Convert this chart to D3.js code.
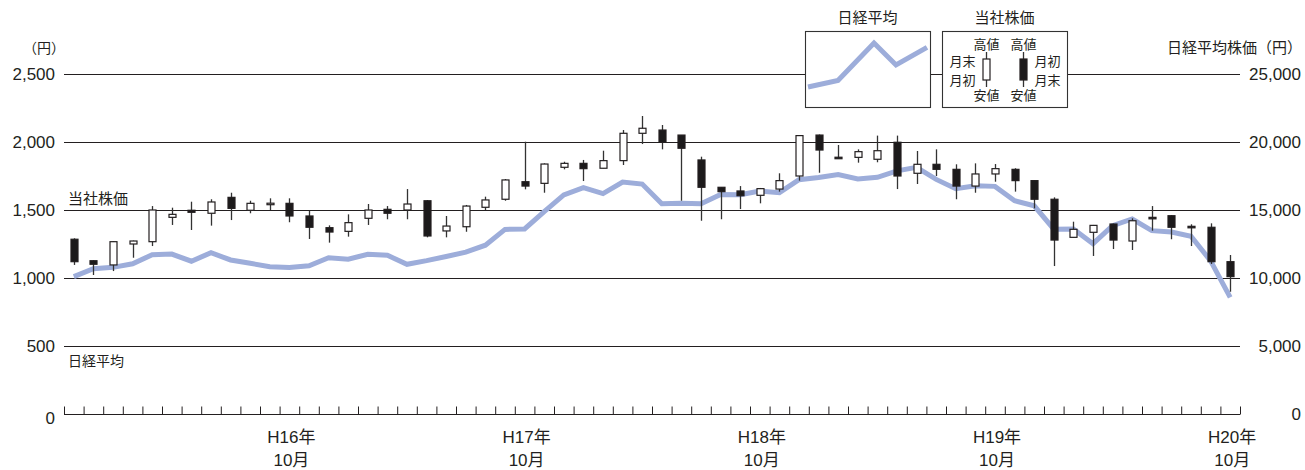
<!DOCTYPE html>
<html>
<head>
<meta charset="utf-8">
<script src="https://cdn.jsdelivr.net/npm/d3@7"></script>
<style>
  body { margin: 0; background: #fff; }
  text { font-family: 'Liberation Sans', 'Noto Sans CJK JP', sans-serif; fill: #231f20; }
</style>
</head>
<body>
<svg id="svg" width="1305" height="470"></svg>
<script>
const width = 1305;
const height = 470;

// months (Heisei year / month)
const months = [
	'15/11', '15/12',
	'16/01', '16/02', '16/03', '16/04', '16/05', '16/06', '16/07', '16/08', '16/09', '16/10', '16/11', '16/12',
	'17/01', '17/02', '17/03', '17/04', '17/05', '17/06', '17/07', '17/08', '17/09', '17/10', '17/11', '17/12',
	'18/01', '18/02', '18/03', '18/04', '18/05', '18/06', '18/07', '18/08', '18/09', '18/10', '18/11', '18/12',
	'19/01', '19/02', '19/03', '19/04', '19/05', '19/06', '19/07', '19/08', '19/09', '19/10', '19/11', '19/12',
	'20/01', '20/02', '20/03', '20/04', '20/05', '20/06', '20/07', '20/08', '20/09', '20/10'
];

// company stock price (yen) : 月初 / 高値 / 安値 / 月末
const openPrice = [
	1285, 1127, 1096, 1250, 1267, 1446, 1498, 1476, 1593, 1498, 1545, 1549, 1456, 1370, 1343,
	1439, 1505, 1500, 1568, 1346, 1377, 1520, 1579, 1708, 1696, 1814, 1843, 1807, 1863, 2064,
	2088, 2051, 1868, 1667, 1640, 1608, 1654, 1750, 2051, 1888, 1887, 1873, 1998, 1770, 1836,
	1799, 1676, 1765, 1799, 1716, 1579, 1299, 1336, 1397, 1272, 1446, 1458, 1380, 1373, 1120
];
const highPrice = [
	1292, 1130, 1270, 1275, 1529, 1517, 1561, 1579, 1627, 1568, 1586, 1586, 1495, 1387, 1468,
	1544, 1529, 1654, 1573, 1456, 1537, 1598, 1728, 2002, 1843, 1855, 1868, 1936, 2088, 2191,
	2125, 2051, 1892, 1667, 1676, 1662, 1770, 2051, 2055, 1978, 1946, 2047, 2047, 1934, 1946,
	1836, 1843, 1838, 1807, 1720, 1593, 1414, 1390, 1400, 1439, 1529, 1462, 1395, 1402, 1169
];
const lowPrice = [
	1096, 1022, 1051, 1149, 1235, 1390, 1353, 1385, 1426, 1476, 1500, 1410, 1287, 1260, 1304,
	1390, 1432, 1432, 1299, 1299, 1340, 1500, 1568, 1652, 1627, 1799, 1713, 1807, 1831, 1985,
	1946, 1568, 1421, 1432, 1507, 1549, 1635, 1716, 1774, 1880, 1848, 1851, 1654, 1691, 1750,
	1579, 1627, 1708, 1635, 1512, 1088, 1299, 1162, 1213, 1206, 1348, 1285, 1235, 1103, 899
];
const closePrice = [
	1120, 1101, 1267, 1272, 1500, 1468, 1483, 1559, 1512, 1549, 1550, 1456, 1373, 1338, 1407,
	1500, 1476, 1544, 1309, 1382, 1529, 1574, 1721, 1676, 1838, 1843, 1804, 1863, 2064, 2101,
	1998, 1954, 1667, 1635, 1605, 1657, 1716, 2047, 1941, 1882, 1929, 1936, 1750, 1836, 1799,
	1676, 1765, 1804, 1716, 1579, 1279, 1358, 1387, 1279, 1421, 1436, 1373, 1373, 1120, 1010
];

// Nikkei average (yen, month end)
const nikkei = [
	10100, 10677, 10784, 11042, 11715, 11762, 11236, 11858, 11326, 11082, 10824, 10771, 10899, 11489, 11388,
	11741, 11669, 11009, 11277, 11584, 11900, 12414, 13574, 13607, 14872, 16111, 16650, 16205, 17060, 16906,
	15467, 15505, 15457, 16141, 16128, 16399, 16274, 17226, 17383, 17604, 17288, 17400, 17876, 18138, 17249,
	16569, 16786, 16738, 15681, 15308, 13593, 13604, 12526, 13850, 14339, 13481, 13377, 13073, 11260, 8577
];

const leftTicks = [0, 500, 1000, 1500, 2000, 2500];
const rightTicks = [0, 5000, 10000, 15000, 20000, 25000];
const labelMonths = ['16/10', '17/10', '18/10', '19/10', '20/10'];
const labelYears = ['H16年', 'H17年', 'H18年', 'H19年', 'H20年'];
const labelMonthText = '10月';

// legend sample for the Nikkei line (relative values)
const legendLine = [1.0, 1.6, 5.0, 3.0, 4.6];
const legendSteps = [0, 30, 66, 88, 119];

const lineColor = '#9dadda';
const wickColor = '#333';
const bodyDark = '#1c1a1b';
const gridColor = '#231f20';

const paddings = { left: 64, right: 65, top: 74, bottom: 56 };
const plotRight = width - paddings.right;
const plotBottom = height - paddings.bottom;

const svg = d3.select('#svg');

const xBand = d3.scaleBand().domain(months).range([paddings.left, plotRight]);
const xEdge = d3.scaleLinear().domain([0, months.length]).range([paddings.left, plotRight]);
const yLeft = d3.scaleLinear().domain([0, 2500]).range([plotBottom, paddings.top]);
const yRight = d3.scaleLinear().domain([0, 25000]).range([plotBottom, paddings.top]);

generateGrids();
generateAxis();
renderLine();
renderCandles();
renderLabels();
renderLegend();

function generateGrids() {
	svg.append('g')
		.selectAll('line')
		.data(leftTicks)
		.enter()
		.append('line')
		.attr('x1', paddings.left)
		.attr('x2', plotRight)
		.attr('y1', d => Math.round(yLeft(d)) + 0.5)
		.attr('y2', d => Math.round(yLeft(d)) + 0.5)
		.attr('stroke', gridColor)
		.attr('stroke-width', 1.1);
}

function generateAxis() {
	const yAxisL = d3.axisLeft(yLeft)
		.tickValues(leftTicks)
		.tickSize(0)
		.tickPadding(9)
		.tickFormat(d3.format(','));

	const gl = svg.append('g')
		.attr('transform', 'translate(' + paddings.left + ',0)')
		.call(yAxisL);
	gl.select('.domain').remove();
	gl.selectAll('text')
		.style('font-size', '17px')
		.attr('dy', d => d === 0 ? '0.55em' : '0.35em');

	const yAxisR = d3.axisRight(yRight)
		.tickValues(rightTicks)
		.tickSize(0)
		.tickFormat(d3.format(','));

	const gr = svg.append('g')
		.attr('transform', 'translate(' + plotRight + ',0)')
		.call(yAxisR);
	gr.select('.domain').remove();
	gr.selectAll('text')
		.attr('x', 61)
		.attr('text-anchor', 'end')
		.style('font-size', '17px')
		.attr('dy', d => d === 0 ? '0.3em' : '0.35em');

	// month ticks along the bottom
	const xAxis = d3.axisTop(xEdge)
		.tickValues(d3.range(months.length + 1))
		.tickSize(8)
		.tickFormat('');

	const gx = svg.append('g')
		.attr('transform', 'translate(0,' + (Math.round(plotBottom) + 0.5) + ')')
		.call(xAxis);
	gx.select('.domain').remove();
	gx.selectAll('.tick line').attr('stroke', gridColor).attr('stroke-width', 1);

	const gLabels = svg.append('g').attr('text-anchor', 'middle').style('font-size', '17px');
	gLabels.selectAll('text.yr')
		.data(labelMonths)
		.enter()
		.append('text')
		.attr('class', 'yr')
		.attr('x', d => xBand(d) + xBand.bandwidth() / 2 + 2)
		.attr('y', 443)
		.text((d, i) => labelYears[i]);
	gLabels.selectAll('text.mo')
		.data(labelMonths)
		.enter()
		.append('text')
		.attr('class', 'mo')
		.attr('x', d => xBand(d) + xBand.bandwidth() / 2 + 2)
		.attr('y', 466)
		.text(labelMonthText);
}

function renderLine() {
	const line = d3.line()
		.x((d, i) => xBand(months[i]) + xBand.bandwidth() / 2)
		.y(d => yRight(d));

	svg.append('path')
		.attr('d', line(nikkei))
		.attr('fill', 'none')
		.attr('stroke', lineColor)
		.attr('stroke-width', 5);
}

function renderCandles() {
	const bw = 7;
	const candles = months.map((m, i) => ({
		m: m, o: openPrice[i], h: highPrice[i], l: lowPrice[i], c: closePrice[i]
	}));

	const g = svg.append('g')
		.selectAll('g')
		.data(candles)
		.enter()
		.append('g')
		.attr('transform', d => 'translate(' + (Math.round(xBand(d.m) + xBand.bandwidth() / 2) + 0.5) + ',0)');

	g.append('line')
		.attr('x1', 0).attr('x2', 0)
		.attr('y1', d => yLeft(d.h))
		.attr('y2', d => yLeft(d.l))
		.attr('stroke', wickColor)
		.attr('stroke-width', 1.3);

	g.append('rect')
		.attr('x', -bw / 2)
		.attr('width', bw)
		.attr('y', d => yLeft(Math.max(d.o, d.c)))
		.attr('height', d => Math.max(1.5, Math.abs(yLeft(d.o) - yLeft(d.c))))
		.attr('fill', d => d.c >= d.o ? '#fff' : bodyDark)
		.attr('stroke', '#231f20')
		.attr('stroke-width', 1.2);
}

function renderLabels() {
	svg.append('text')
		.attr('x', 44).attr('y', 53)
		.attr('text-anchor', 'middle')
		.style('font-size', '14px')
		.text('（円）');

	svg.append('text')
		.attr('x', 1302).attr('y', 53)
		.attr('text-anchor', 'end')
		.style('font-size', '15px')
		.text('日経平均株価（円）');

	svg.append('text')
		.attr('x', 68).attr('y', 204)
		.style('font-size', '15px')
		.text('当社株価');

	svg.append('text')
		.attr('x', 68).attr('y', 366)
		.style('font-size', '14px')
		.text('日経平均');
}

function renderLegend() {
	// Nikkei legend
	const box1 = { x: 805, y: 31, w: 125, h: 76 };
	svg.append('rect')
		.attr('x', box1.x + 0.5).attr('y', box1.y + 0.5)
		.attr('width', box1.w).attr('height', box1.h)
		.attr('fill', '#fff').attr('stroke', '#333').attr('stroke-width', 1.1);
	svg.append('text')
		.attr('x', box1.x + box1.w / 2).attr('y', 23)
		.attr('text-anchor', 'middle')
		.style('font-size', '15px')
		.text('日経平均');

	const ly = d3.scaleLinear().domain([1, 5]).range([box1.y + 56, box1.y + 12]);
	const legLine = d3.line()
		.x((d, i) => box1.x + 3 + legendSteps[i])
		.y(d => ly(d));
	svg.append('path')
		.attr('d', legLine(legendLine))
		.attr('fill', 'none')
		.attr('stroke', lineColor)
		.attr('stroke-width', 5);

	// company stock legend
	const box2 = { x: 942, y: 31, w: 125, h: 76 };
	svg.append('rect')
		.attr('x', box2.x + 0.5).attr('y', box2.y + 0.5)
		.attr('width', box2.w).attr('height', box2.h)
		.attr('fill', '#fff').attr('stroke', '#333').attr('stroke-width', 1.1);
	svg.append('text')
		.attr('x', box2.x + box2.w / 2).attr('y', 23)
		.attr('text-anchor', 'middle')
		.style('font-size', '15px')
		.text('当社株価');

	const sample = [
		{ x: 986.5, fill: '#fff', top: '月末', bottom: '月初', side: -1 },
		{ x: 1023.5, fill: bodyDark, top: '月初', bottom: '月末', side: 1 }
	];
	const gs = svg.append('g').selectAll('g').data(sample).enter().append('g');
	gs.append('line')
		.attr('x1', d => d.x).attr('x2', d => d.x)
		.attr('y1', 52).attr('y2', 87)
		.attr('stroke', wickColor).attr('stroke-width', 1.3);
	gs.append('rect')
		.attr('x', d => d.x - 3.5).attr('y', 59)
		.attr('width', 7).attr('height', 21)
		.attr('fill', d => d.fill)
		.attr('stroke', '#231f20').attr('stroke-width', 1.2);
	gs.append('text')
		.attr('x', d => d.x).attr('y', 49)
		.attr('text-anchor', 'middle').style('font-size', '13px')
		.text('高値');
	gs.append('text')
		.attr('x', d => d.x).attr('y', 100)
		.attr('text-anchor', 'middle').style('font-size', '13px')
		.text('安値');
	gs.append('text')
		.attr('x', d => d.x + d.side * 24).attr('y', 66)
		.attr('text-anchor', 'middle').style('font-size', '13px')
		.text(d => d.top);
	gs.append('text')
		.attr('x', d => d.x + d.side * 24).attr('y', 85)
		.attr('text-anchor', 'middle').style('font-size', '13px')
		.text(d => d.bottom);
}
</script>
</body>
</html>
